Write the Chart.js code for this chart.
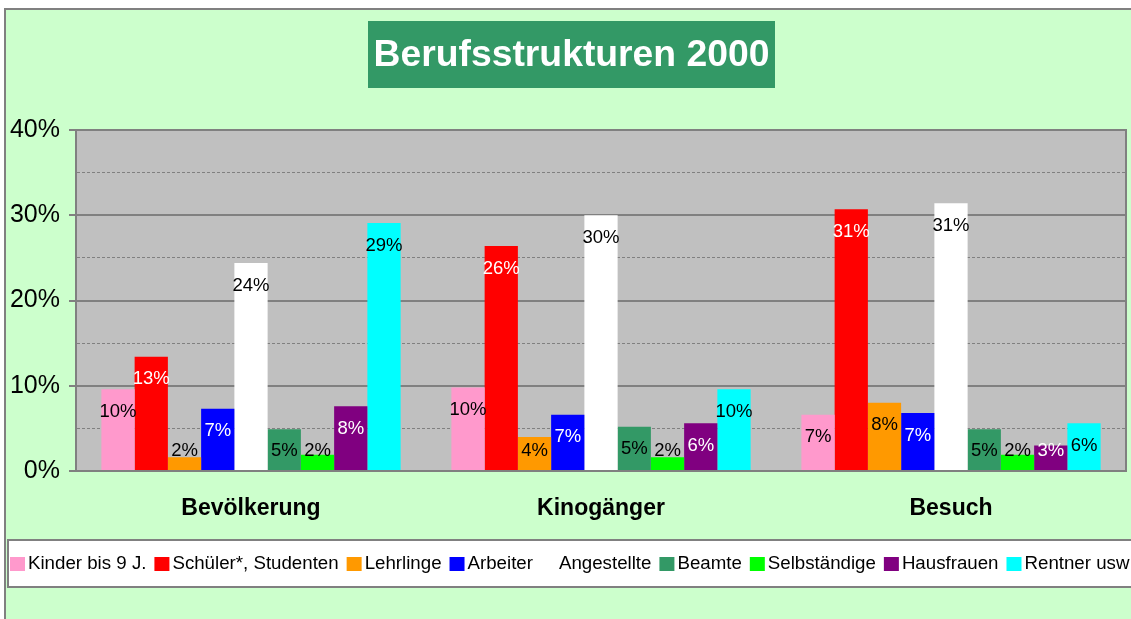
<!DOCTYPE html>
<html>
<head>
<meta charset="utf-8">
<script src="https://cdn.jsdelivr.net/npm/chart.js@4.4.0/dist/chart.umd.min.js"></script>
<style>
  body { margin: 0; background: #fff; }
  canvas { display: block; }
</style>
</head>
<body>
<canvas id="chart" width="1131" height="619"></canvas>
<script>
const categories = ["Bevölkerung", "Kinogänger", "Besuch"];
const seriesNames = ["Kinder bis 9 J.", "Schüler*, Studenten", "Lehrlinge", "Arbeiter",
  "Angestellte", "Beamte", "Selbständige", "Hausfrauen", "Rentner usw"];

// percentages per category (Bevölkerung, Kinogänger, Besuch)
const kinder       = [9.6, 9.8, 6.6];
const schueler     = [13.4, 26.4, 30.7];
const lehrlinge    = [1.6, 4.0, 8.0];
const arbeiter     = [7.3, 6.6, 6.8];
const angestellte  = [24.4, 30.0, 31.4];
const beamte       = [4.9, 5.2, 4.9];
const selbstaendig = [1.9, 1.6, 1.9];
const hausfrauen   = [7.6, 5.6, 3.0];
const rentner      = [29.1, 9.6, 5.6];

const yTicks = [0, 10, 20, 30, 40];

const seriesValues = [kinder, schueler, lehrlinge, arbeiter, angestellte, beamte, selbstaendig, hausfrauen, rentner];
const barColors = ["#FF99CC", "#FF0000", "#FF9900", "#0000FF", "#FFFFFF", "#339966", "#00FF00", "#800080", "#00FFFF"];
const labelColors = ["#000", "#fff", "#000", "#fff", "#000", "#000", "#000", "#fff", "#000"];

const FONT = '"Liberation Sans", Arial, sans-serif';
const GREY = "#808080";

// background, frame, plot area and title box
const framePlugin = {
  id: "frame",
  beforeDraw(chart) {
    const ctx = chart.ctx;
    const w = chart.width, h = chart.height;
    const a = chart.chartArea;
    ctx.save();
    ctx.fillStyle = "#fff";
    ctx.fillRect(0, 0, w, h);
    ctx.fillStyle = "#CCFFCC";
    ctx.fillRect(5, 9, w, h);
    ctx.strokeStyle = GREY;
    ctx.lineWidth = 2;
    ctx.beginPath();
    ctx.moveTo(5, h + 2);
    ctx.lineTo(5, 9);
    ctx.lineTo(w + 2, 9);
    ctx.stroke();

    ctx.fillStyle = "#C0C0C0";
    ctx.fillRect(a.left, a.top, a.right - a.left, a.bottom - a.top);

    // title
    ctx.fillStyle = "#339966";
    ctx.fillRect(368, 21, 407, 67);
    ctx.font = "bold 36px " + FONT;
    const tw = ctx.measureText("Berufsstrukturen 2000").width;
    const sx = 396 / tw;
    ctx.translate(571.5, 66);
    ctx.scale(sx, 1);
    ctx.fillStyle = "#fff";
    ctx.textAlign = "center";
    ctx.textBaseline = "alphabetic";
    ctx.fillText("Berufsstrukturen 2000", 0, 0);
    ctx.restore();
  },
  afterDatasetsDraw(chart) {
    const ctx = chart.ctx;
    const a = chart.chartArea;
    ctx.save();
    ctx.strokeStyle = GREY;
    ctx.lineWidth = 2;
    ctx.strokeRect(a.left, a.top, a.right - a.left, a.bottom - a.top);

    // value labels inside the bars
    ctx.font = "18.5px " + FONT;
    ctx.textAlign = "center";
    ctx.textBaseline = "middle";
    chart.data.datasets.forEach((ds, i) => {
      const meta = chart.getDatasetMeta(i);
      meta.data.forEach((bar, j) => {
        const y = Math.min(bar.y + 22.5, bar.base - 19);
        ctx.fillStyle = labelColors[i];
        ctx.fillText(Math.round(ds.data[j]) + "%", bar.x, y);
      });
    });
    ctx.restore();
  },
  afterDraw(chart) {
    // legend box in one row
    const ctx = chart.ctx;
    ctx.save();
    ctx.fillStyle = "#fff";
    ctx.fillRect(8, 540, 1125, 47);
    ctx.strokeStyle = GREY;
    ctx.lineWidth = 2;
    ctx.strokeRect(8, 540, 1125, 47);
    ctx.font = "18.7px " + FONT;
    ctx.textBaseline = "middle";
    let x = 10;
    const cy = 564;
    chart.data.datasets.forEach((ds) => {
      ctx.fillStyle = ds.backgroundColor;
      ctx.fillRect(x, cy - 7, 15, 14);
      x += 18;
      ctx.fillStyle = "#000";
      ctx.fillText(ds.label, x, cy);
      x += ctx.measureText(ds.label).width + 8;
    });
    ctx.restore();
  }
};

new Chart(document.getElementById("chart"), {
  type: "bar",
  data: {
    labels: categories,
    datasets: seriesNames.map((name, i) => ({
      label: name,
      data: seriesValues[i],
      backgroundColor: barColors[i],
      borderWidth: 0,
      categoryPercentage: 0.855,
      barPercentage: 1
    }))
  },
  options: {
    responsive: false,
    animation: false,
    devicePixelRatio: 1,
    layout: { padding: { left: 0, right: 5, top: 130, bottom: 0 } },
    plugins: {
      legend: { display: false },
      title: { display: false },
      tooltip: { enabled: false }
    },
    scales: {
      x: {
        grid: { display: false },
        border: { display: true, color: GREY, width: 2 },
        ticks: {
          font: { family: FONT, size: 23, weight: "bold" },
          color: "#000",
          padding: 16
        },
        afterFit(scale) { scale.height = 148; }
      },
      y: {
        min: 0,
        max: 40,
        ticks: {
          stepSize: 5,
          font: { family: FONT, size: 25 },
          color: "#000",
          padding: 9,
          callback: (v) => yTicks.includes(v) ? v + "%" : ""
        },
        grid: {
          color: GREY,
          lineWidth: (c) => (c.tick && c.tick.value % 10 === 0) ? 2 : 1,
          tickLength: 7,
          tickColor: (c) => (c.tick && c.tick.value % 10 === 0) ? GREY : "rgba(0,0,0,0)"
        },
        border: {
          display: true,
          color: GREY,
          width: 2,
          dash: (c) => (c.tick && c.tick.value % 10 !== 0) ? [3, 2] : []
        },
        afterFit(scale) { scale.width = 76; }
      }
    }
  },
  plugins: [framePlugin]
});
</script>
</body>
</html>
